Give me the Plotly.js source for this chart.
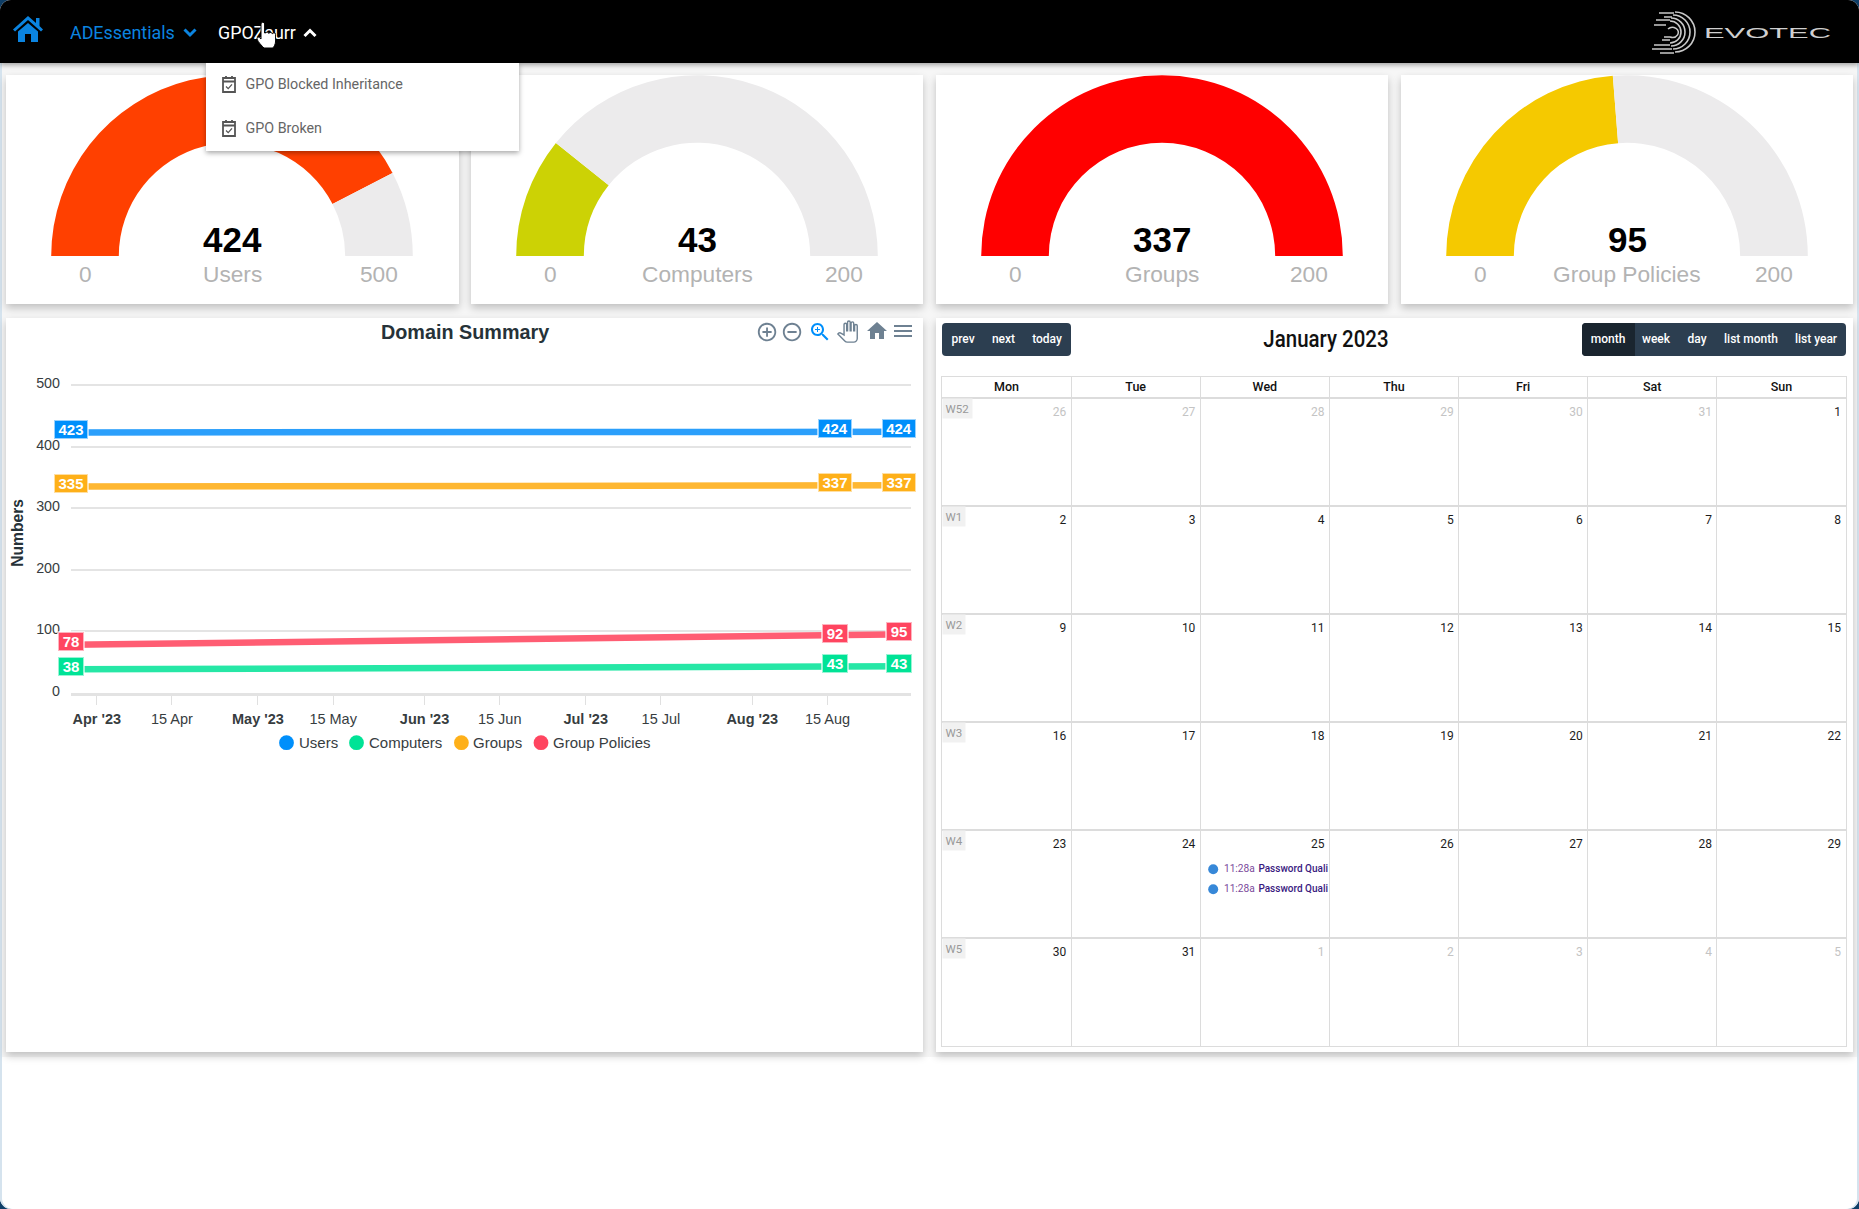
<!DOCTYPE html>
<html><head><meta charset="utf-8">
<script src="https://cdn.plot.ly/plotly-3.0.1.min.js"></script>
<style>
html,body{margin:0;padding:0;width:1859px;height:1209px;overflow:hidden;background:#0f3f68;}
#page{position:absolute;left:0;top:0;width:1859px;height:1209px;background:#fff;border-radius:11px;overflow:hidden;box-shadow:inset 2px 0 0 #d5e3ee,inset -2px 0 0 #d5e3ee;}
#wrap{position:absolute;left:2px;top:63px;width:1855px;height:994px;background:#f6f6f6;}
.card{position:absolute;background:#fff;box-shadow:0 4px 8px rgba(0,0,0,.22);}
#nav{position:absolute;left:0;top:0;width:1859px;height:63px;background:#000;border-radius:11px 11px 0 0;box-shadow:0 2px 5px rgba(0,0,0,.35);font-family:Roboto;font-size:19px;}
.abs{position:absolute;white-space:nowrap;}
.sq{transform:scaleX(.94);transform-origin:left center;}
#plot{position:absolute;left:0;top:0;width:1859px;height:1209px;}
#front{position:absolute;left:0;top:0;width:1859px;height:1209px;pointer-events:none;}
#drop{position:absolute;left:206px;top:63px;width:313px;height:88px;background:#fff;box-shadow:0 2px 5px rgba(0,0,0,.35);font-family:Roboto;font-size:14.3px;color:#666;}
.btn{position:absolute;background:#2c3e50;border-radius:4px;top:323px;height:33px;}
.bt{position:absolute;top:323px;height:33px;line-height:32px;color:#fff;font-family:Roboto;font-weight:500;font-size:12px;transform:translateX(-50%);white-space:nowrap;}
</style></head><body>
<div id="page">
  <div id="wrap"></div>
  <div class="card" style="left:6px;top:75px;width:453px;height:229px"></div>
  <div class="card" style="left:471px;top:75px;width:452px;height:229px"></div>
  <div class="card" style="left:936px;top:75px;width:452px;height:229px"></div>
  <div class="card" style="left:1401px;top:75px;width:452px;height:229px"></div>
  <div class="card" style="left:6px;top:318px;width:917px;height:734px"></div>
  <div class="card" style="left:936px;top:318px;width:917px;height:734px"></div>

  <div class="btn" style="left:942px;width:129px"></div>
  <div class="btn" style="left:1582px;width:264px"></div>
  <div class="btn" style="left:1582px;width:53px;background:#1a252f;border-radius:4px 0 0 4px"></div>
  <div class="bt" style="left:963px">prev</div>
  <div class="bt" style="left:1003.5px">next</div>
  <div class="bt" style="left:1047px">today</div>
  <div class="bt" style="left:1608px">month</div>
  <div class="bt" style="left:1656px">week</div>
  <div class="bt" style="left:1697px">day</div>
  <div class="bt" style="left:1751px">list month</div>
  <div class="bt" style="left:1816px">list year</div>
  <div class="abs" style="left:1326px;top:324px;transform:translateX(-50%) scaleX(.89);font-family:Roboto;font-weight:500;font-size:23px;line-height:32px;color:#111">January 2023</div>

  <svg class="abs" style="left:755px;top:319px" width="160" height="26" viewBox="0 0 160 26" fill="#6e8192">
    <g transform="translate(1,2) scale(0.92)"><path d="M13 7h-2v4H7v2h4v4h2v-4h4v-2h-4V7zm-1-5C6.48 2 2 6.48 2 12s4.48 10 10 10 10-4.48 10-10S17.52 2 12 2zm0 18c-4.41 0-8-3.59-8-8s3.59-8 8-8 8 3.59 8 8-3.59 8-8 8z"/></g>
    <g transform="translate(26,2) scale(0.92)"><path d="M7 11v2h10v-2H7zm5-9C6.48 2 2 6.48 2 12s4.48 10 10 10 10-4.48 10-10S17.52 2 12 2zm0 18c-4.41 0-8-3.59-8-8s3.59-8 8-8 8 3.59 8 8-3.59 8-8 8z"/></g>
    <g transform="translate(53,1) scale(1.0)" fill="#008ffb"><path d="M15.5 14h-.79l-.28-.27C15.41 12.59 16 11.11 16 9.5 16 5.91 13.09 3 9.5 3S3 5.91 3 9.5 5.91 16 9.5 16c1.61 0 3.09-.59 4.23-1.57l.27.28v.79l5 4.99L20.49 19l-4.99-5zm-6 0C7.01 14 5 11.99 5 9.5S7.01 5 9.5 5 14 7.01 14 9.5 11.99 14 9.5 14z"/><path d="M12 10h-2v2H9v-2H7V9h2V7h1v2h2v1z"/></g>
    <g transform="translate(82,2) scale(0.88)" fill="#fff" stroke="#6e8192" stroke-width="1.6"><path d="M23 5.5V20c0 2.2-1.8 4-4 4h-7.3c-1.08 0-2.1-.43-2.85-1.19L1 14.83s1.26-1.23 1.3-1.25c.22-.19.49-.29.79-.29.22 0 .42.06.6.16.04.01 4.31 2.46 4.31 2.46V4c0-.83.67-1.5 1.5-1.5S11 3.17 11 4v7h1V1.5c0-.83.67-1.5 1.5-1.5S15 .67 15 1.5V11h1V2.5c0-.83.67-1.5 1.5-1.5s1.5.67 1.5 1.5V11h1V5.5c0-.83.67-1.5 1.5-1.5s1.5.67 1.5 1.5z"/></g>
    <g transform="translate(110,0) scale(1.0)"><path d="M10 20v-6h4v6h5v-8h3L12 3 2 12h3v8z"/></g>
    <g transform="translate(136,0) scale(1.0)"><path d="M3 18h18v-2H3v2zm0-5h18v-2H3v2zm0-7v2h18V6H3z"/></g>
  </svg>
</div>

<div id="plot"></div>

<div id="front">
  <div id="nav">
    <svg class="abs" style="left:12px;top:15px" width="32" height="28" viewBox="0 0 32 28"><path fill="#0b84e0" d="M16 1 L24 8 V3 H27.5 V11 L31 14.5 L29 16.5 L16 5 L3 16.5 L1 14.5 Z M6 16.5 L16 8 L26 16.5 V27 H19 V19 H13 V27 H6 Z"/></svg>
    <div class="abs sq" style="left:70px;top:21px;color:#0b84e0;line-height:24px">ADEssentials</div>
    <svg class="abs" style="left:183px;top:27px" width="14" height="12" viewBox="0 0 14 12"><path d="M1.5 2.5 L7 8 L12.5 2.5" fill="none" stroke="#0b84e0" stroke-width="3"/></svg>
    <div class="abs sq" style="left:218px;top:21px;color:#fff;line-height:24px">GPOZaurr</div>
    <svg class="abs" style="left:303px;top:27px" width="14" height="12" viewBox="0 0 14 12"><path d="M1.5 9 L7 3.5 L12.5 9" fill="none" stroke="#fff" stroke-width="3"/></svg>
    <svg class="abs" style="left:256px;top:22px" width="20" height="27" viewBox="0 0 20 27"><path d="M5 2 a1.8 1.8 0 0 1 3.6 0 V11 h1 a1.6 1.6 0 0 1 3 .3 h.6 a1.6 1.6 0 0 1 3 .4 h.4 a1.6 1.6 0 0 1 3 .6 V19 c0 3 -1.5 6 -3 7 H8 C6 24 2 20 1 17 c-.5 -1.6 1.5 -2.4 2.5 -1.4 L5 17 Z" fill="#fff" stroke="#000" stroke-width="1"/></svg>
    <svg class="abs" style="left:1650px;top:8px" width="190" height="48" viewBox="0 0 190 48">
      <g fill="none" stroke="#c9c9c9" stroke-width="1.6">
        <path d="M25 4 a20 20 0 0 1 0 40"/><path d="M23 7 a17 17 0 0 1 0 34"/><path d="M21 10 a14 14 0 0 1 0 28"/><path d="M20 13 a11 11 0 0 1 0 22"/>
        <path d="M18 21 a6 5 0 1 1 2 8 h-6"/>
        <path d="M9 5 H24 M14 9 H22 M6 12 H20 M4 17 H16 M12 32 H20 M4 37 H20 M2 41 H22 M10 45 H24"/>
      </g>
      <text x="54" y="30" font-family="Liberation Sans" font-size="15" fill="#cfcfcf" textLength="127" lengthAdjust="spacingAndGlyphs">EVOTEC</text>
    </svg>
  </div>
  <div id="drop">
    <svg class="abs" style="left:15px;top:11px" width="16" height="20" viewBox="0 0 16 20"><path d="M2 4 H14 V18 H2 Z M2 7.5 H14 M5 2 V5 M11 2 V5" fill="none" stroke="#555" stroke-width="1.8"/><path d="M5 12.5 L7.2 14.6 L11 10.4" fill="none" stroke="#555" stroke-width="1.3"/></svg>
    <div class="abs" style="left:39.5px;top:11px;line-height:20px">GPO Blocked Inheritance</div>
    <svg class="abs" style="left:15px;top:55px" width="16" height="20" viewBox="0 0 16 20"><path d="M2 4 H14 V18 H2 Z M2 7.5 H14 M5 2 V5 M11 2 V5" fill="none" stroke="#555" stroke-width="1.8"/><path d="M5 12.5 L7.2 14.6 L11 10.4" fill="none" stroke="#555" stroke-width="1.3"/></svg>
    <div class="abs" style="left:39.5px;top:55px;line-height:20px">GPO Broken</div>
  </div>
</div>

<script>
// ---- gauges ----
const gaugeLabels = ['Users','Computers','Groups','Group Policies'];
const gaugeValues = [424,43,337,95];
const gaugeMax = [500,200,200,200];
const gaugeColors = ['#ff4000','#ccd205','#ff0000','#f5c900'];
const gaugeTrack = '#ecebec';

// ---- domain summary line chart ----
const seriesNames = ['Users','Computers','Groups','Group Policies'];
const seriesDates = ['2023-03-27 05:00','2023-08-16 10:00','2023-08-30 13:00'];
const usersValues = [423,424,424];
const computersValues = [38,43,43];
const groupsValues = [335,337,337];
const policiesValues = [78,92,95];
const lineColors = ['#2b9ffb','#26e7a6','#feb732','#ff5d73'];
const markColors = ['#008ffb','#00e396','#feb019','#ff4560'];
const xTickDates = ['2023-04-01','2023-04-15','2023-05-01','2023-05-15','2023-06-01','2023-06-15','2023-07-01','2023-07-15','2023-08-01','2023-08-15'];
const xTickLabels = ["<b>Apr '23</b>",'15 Apr',"<b>May '23</b>",'15 May',"<b>Jun '23</b>",'15 Jun',"<b>Jul '23</b>",'15 Jul',"<b>Aug '23</b>",'15 Aug'];
const yTickValues = [0,100,200,300,400,500];

// ---- calendar ----
const dayHeaders = ['Mon','Tue','Wed','Thu','Fri','Sat','Sun'];
const weekLabels = ['W52','W1','W2','W3','W4','W5'];
const calRows = [
  [26,27,28,29,30,31,1],
  [2,3,4,5,6,7,8],
  [9,10,11,12,13,14,15],
  [16,17,18,19,20,21,22],
  [23,24,25,26,27,28,29],
  [30,31,1,2,3,4,5]
];
const calMuted = [
  [1,1,1,1,1,1,0],
  [0,0,0,0,0,0,0],
  [0,0,0,0,0,0,0],
  [0,0,0,0,0,0,0],
  [0,0,0,0,0,0,0],
  [0,0,1,1,1,1,1]
];
const eventCols = [2,2];
const eventRows = [4,4];
const eventSlots = [0.365,0.55];
const eventTimes = ['11:28a','11:28a'];
const eventTitles = ['Password Quali','Password Quali'];

// ---- page geometry helpers (layout only) ----
const W = 1859, H = 1209;
const fx = p => p / W;
const fy = p => 1 - p / H;
const gaugeCx = [232,697,1162,1627];
const gaugeCy = 256, gaugeR = 180.8;
const SANS = 'Liberation Sans, Arial, sans-serif';

const traces = [];
const annotations = [];
const shapes = [];

gaugeLabels.forEach((name,i) => {
  const shown = Math.min(gaugeValues[i],gaugeMax[i]);
  traces.push({
    type:'pie', values:[shown,gaugeMax[i]-shown,gaugeMax[i]], sort:false, direction:'clockwise', rotation:270,
    hole:0.626, textinfo:'none', hoverinfo:'skip', showlegend:false,
    marker:{colors:[gaugeColors[i],gaugeTrack,'rgba(0,0,0,0)'],line:{width:0}},
    domain:{x:[fx(gaugeCx[i]-gaugeR),fx(gaugeCx[i]+gaugeR)],y:[fy(gaugeCy+gaugeR),fy(gaugeCy-gaugeR)]}
  });
  const note = (txt,x,y,size,color) => annotations.push({xref:'paper',yref:'paper',x:fx(x),y:fy(y),text:txt,showarrow:false,xanchor:'center',yanchor:'middle',font:{family:SANS,size:size,color:color}});
  note('<b>'+gaugeValues[i]+'</b>',gaugeCx[i],240,35,'#000');
  note(name,gaugeCx[i],274,22.7,'#b3b3b3');
  note('0',gaugeCx[i]-147,274,22.7,'#b3b3b3');
  note(String(gaugeMax[i]),gaugeCx[i]+147,274,22.7,'#b3b3b3');
});

const seriesValues = [usersValues,computersValues,groupsValues,policiesValues];
seriesNames.forEach((name,i) => {
  traces.push({type:'scatter',mode:'lines',name:name,x:seriesDates,y:seriesValues[i],xaxis:'x',yaxis:'y',
    line:{color:lineColors[i],width:6.5},cliponaxis:false,showlegend:false});
  seriesDates.forEach((d,k) => {
    const txt = String(seriesValues[i][k]);
    annotations.push({xref:'x',yref:'y',x:d,y:seriesValues[i][k],text:'<b>'+txt+'</b>',showarrow:false,
      xanchor:'center',yanchor:'middle',xshift:k===2?-12:0,yshift:3,
      width:txt.length===3?30:22,height:15,borderpad:1,borderwidth:2,
      bgcolor:markColors[i],bordercolor:'rgba(255,255,255,0.6)',font:{family:SANS,size:15,color:'#fff'}});
  });
});

// chart title, y title and legend
annotations.push({xref:'paper',yref:'paper',x:fx(465),y:fy(332),text:'<b>Domain Summary</b>',showarrow:false,xanchor:'center',yanchor:'middle',font:{family:SANS,size:19.8,color:'#263238'}});
annotations.push({xref:'paper',yref:'paper',x:fx(18),y:fy(532.7),text:'<b>Numbers</b>',textangle:-90,showarrow:false,xanchor:'center',yanchor:'middle',font:{family:SANS,size:15.6,color:'#263238'}});
const legendDotPx = [286.5,356.5,461.4,541];
seriesNames.forEach((name,i) => {
  shapes.push({type:'circle',xref:'paper',yref:'paper',xsizemode:'pixel',ysizemode:'pixel',xanchor:fx(legendDotPx[i]),yanchor:fy(742.7),
    x0:-7.4,x1:7.4,y0:-7.4,y1:7.4,fillcolor:markColors[i],line:{width:0}});
  annotations.push({xref:'paper',yref:'paper',x:fx(legendDotPx[i]+10),y:fy(742.7),text:name,showarrow:false,xanchor:'left',yanchor:'middle',font:{family:SANS,size:15,color:'#373d3f'}});
});

// calendar text, through its own axes
const cx=[],cy=[],ct=[],cc=[];
calRows.forEach((row,r)=>row.forEach((d,c)=>{cx.push(c+0.962);cy.push(r+0.14);ct.push(String(d));cc.push(calMuted[r][c]?'#c4c4c4':'#1c1c1c');}));
traces.push({type:'scatter',mode:'text',x:cx,y:cy,text:ct,textposition:'middle left',textfont:{family:'Roboto',size:12,color:cc},xaxis:'x2',yaxis:'y2',hoverinfo:'skip',showlegend:false});
traces.push({type:'scatter',mode:'text',x:dayHeaders.map((_,i)=>i+0.5),y:dayHeaders.map(()=>-0.095),text:dayHeaders,textposition:'middle center',textfont:{family:'Roboto',size:12.5,weight:500,color:'#111'},xaxis:'x2',yaxis:'y2',hoverinfo:'skip',showlegend:false});
traces.push({type:'scatter',mode:'markers',x:eventCols.map(c=>c+0.1),y:eventRows.map((r,i)=>r+eventSlots[i]),marker:{size:10,color:'#3788d8'},xaxis:'x2',yaxis:'y2',hoverinfo:'skip',showlegend:false});
traces.push({type:'scatter',mode:'text',x:eventCols.map(c=>c+0.183),y:eventRows.map((r,i)=>r+eventSlots[i]),text:eventTimes,textposition:'middle right',textfont:{family:'Roboto',size:10.2,color:'#7b4a9c'},xaxis:'x2',yaxis:'y2',hoverinfo:'skip',showlegend:false});
traces.push({type:'scatter',mode:'text',x:eventCols.map(c=>c+0.45),y:eventRows.map((r,i)=>r+eventSlots[i]),text:eventTitles,textposition:'middle right',textfont:{family:'Roboto',size:10,weight:500,color:'#3a1a80'},xaxis:'x2',yaxis:'y2',hoverinfo:'skip',showlegend:false});
weekLabels.forEach((w,r)=>annotations.push({xref:'x2',yref:'y2',x:0,y:r,xanchor:'left',yanchor:'top',text:w,showarrow:false,bgcolor:'#f1f1f1',borderpad:2.5,font:{family:'Roboto',size:11.5,color:'#999'}}));

const layout = {
  width:W,height:H,margin:{l:0,r:0,t:0,b:0,pad:0},autosize:false,
  paper_bgcolor:'rgba(0,0,0,0)',plot_bgcolor:'rgba(0,0,0,0)',showlegend:false,
  font:{family:SANS,color:'#373d3f'},
  xaxis:{domain:[fx(71),fx(911)],anchor:'y',type:'date',range:[seriesDates[0],seriesDates[2]],tickmode:'array',tickvals:xTickDates,ticktext:xTickLabels,
    ticks:'outside',ticklen:9,tickwidth:1,tickcolor:'#e0e0e0',tickfont:{family:SANS,size:14.5,color:'#373d3f'},
    showgrid:false,zeroline:false,showline:true,linecolor:'#e3e3e3',linewidth:3,ticklabelstandoff:2},
  yaxis:{domain:[fy(692.7),fy(383.8)],anchor:'x',range:[0,502],tickmode:'array',tickvals:yTickValues,
    showgrid:true,gridcolor:'#e4e4e4',gridwidth:1.6,zeroline:false,showline:false,ticks:'',ticklabelstandoff:10,ticklabelshift:-2,
    tickfont:{family:SANS,size:14.3,color:'#373d3f'}},
  xaxis2:{domain:[fx(942),fx(1846)],anchor:'y2',range:[0,7],tickmode:'array',tickvals:[0,1,2,3,4,5,6,7],showticklabels:false,ticks:'',showgrid:true,gridcolor:'#dcdcdc',gridwidth:1,zeroline:false,showline:true,mirror:true,linecolor:'#dcdcdc',linewidth:1},
  yaxis2:{domain:[fy(1045.7),fy(376.7)],anchor:'x2',range:[6,-0.2],tickmode:'array',tickvals:[-0.2,0,1,2,3,4,5,6],showticklabels:false,ticks:'',showgrid:true,gridcolor:'#dcdcdc',gridwidth:1.6,zeroline:false,showline:true,mirror:true,linecolor:'#dcdcdc',linewidth:1},
  annotations:annotations,shapes:shapes
};
Plotly.newPlot('plot',traces,layout,{displayModeBar:false,responsive:false});
</script>
</body></html>
